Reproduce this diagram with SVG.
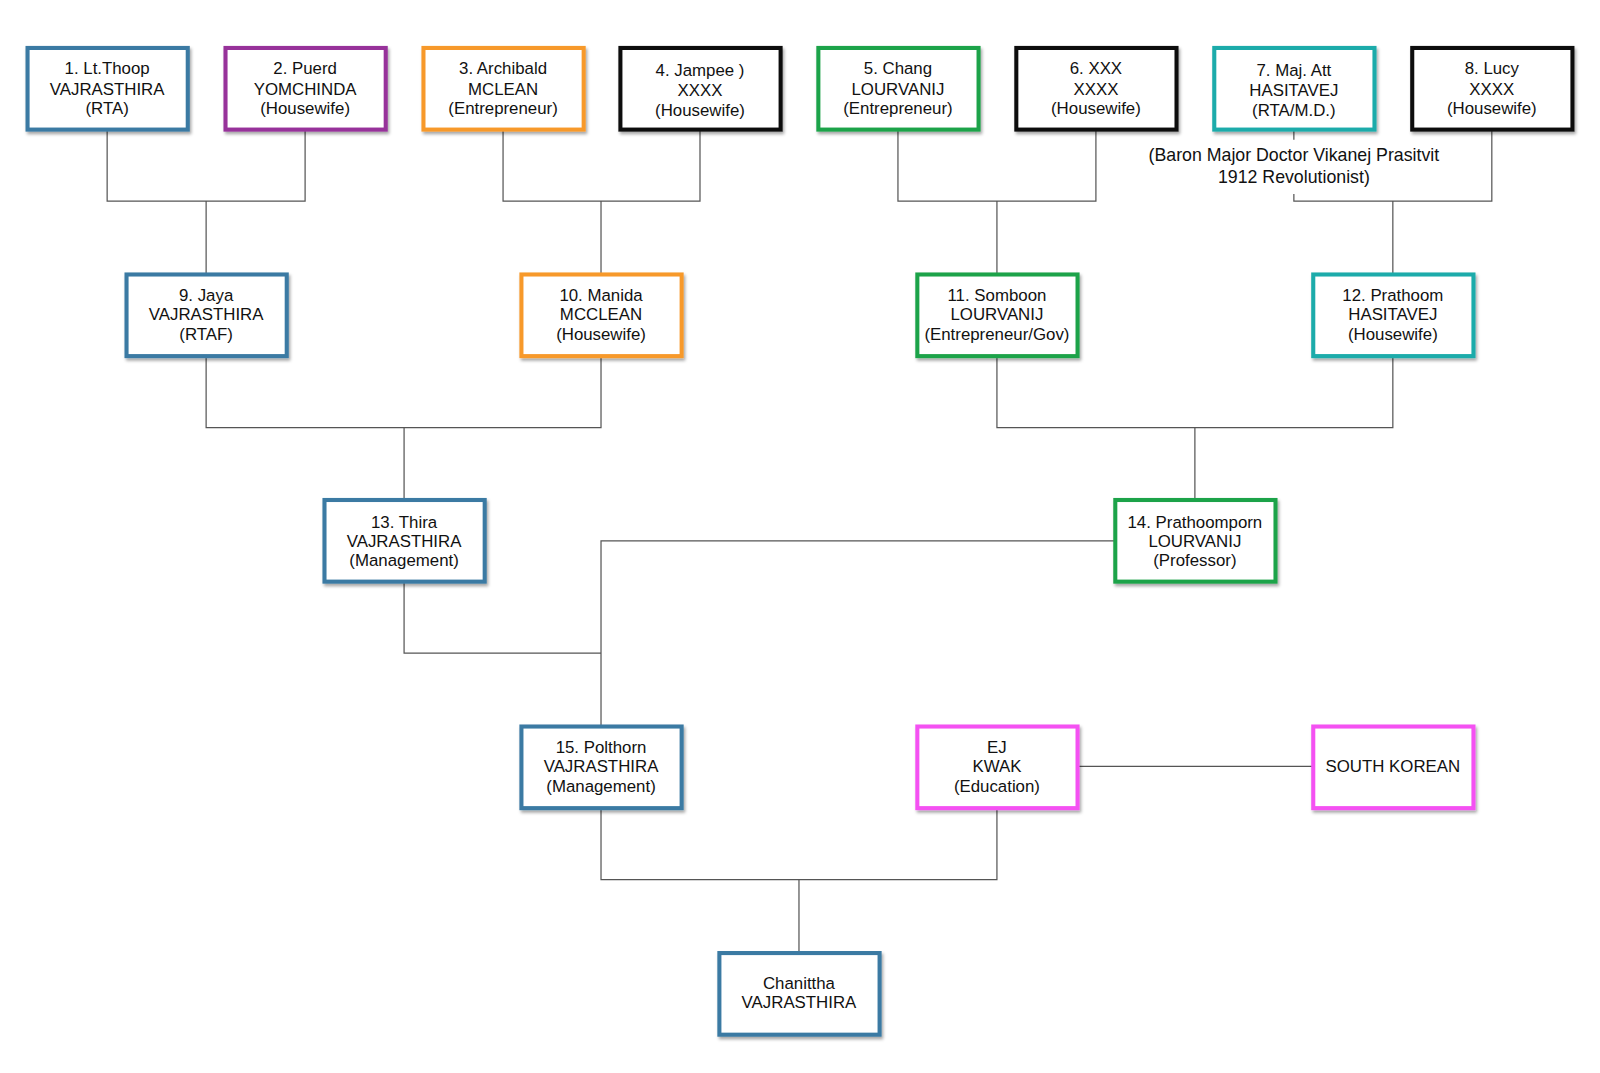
<svg xmlns="http://www.w3.org/2000/svg" width="1600" height="1073" viewBox="0 0 1600 1073">
<style>
.box{fill:#fff;stroke-width:4;filter:url(#sh)}
.t{font-family:"Liberation Sans",Arial,sans-serif;font-size:16.5px;fill:#111;text-anchor:middle}
.n{font-size:17.4px}
.c{stroke:#555;stroke-width:1.2;fill:none}
.blue{stroke:#3A7AA3}.purple{stroke:#97309A}.orange{stroke:#F7992C}.black{stroke:#111}.green{stroke:#1FA34A}.teal{stroke:#1BABAA}.pink{stroke:#F451F2}
</style>
<defs>
<filter id="sh" x="-10%" y="-10%" width="125%" height="130%">
<feDropShadow dx="1.5" dy="2.5" stdDeviation="1.8" flood-color="#000" flood-opacity="0.35"/>
</filter>
</defs>
<rect width="1600" height="1073" fill="#fff"/>
<g transform="scale(1.0204)">
<g id="connectors" class="c">
<path d="M105 127V197H299V127M202 197V269"/>
<path d="M493 127V197H686V127M589 197V269"/>
<path d="M880 127V197H1074V127M977 197V269"/>
<path d="M1268 127V137M1268 190V197H1462V127M1365 197V269"/>
<path d="M202 349V419H589V349M396 419V490"/>
<path d="M977 349V419H1365V349M1171 419V490"/>
<path d="M396 570V640H589"/>
<path d="M1092 530H589V712"/>
<path d="M589 792V862H977V792M783 862V934"/>
<path d="M1056 751H1286"/>
</g>
<g id="n1"><rect class="box blue" x="27" y="47" width="157" height="80"/><text class="t" x="105" y="73">1. Lt.Thoop</text><text class="t" x="105" y="93">VAJRASTHIRA</text><text class="t" x="105" y="112">(RTA)</text></g>
<g id="n2"><rect class="box purple" x="221" y="47" width="157" height="80"/><text class="t" x="299" y="73">2. Puerd</text><text class="t" x="299" y="93">YOMCHINDA</text><text class="t" x="299" y="112">(Housewife)</text></g>
<g id="n3"><rect class="box orange" x="415" y="47" width="157" height="80"/><text class="t" x="493" y="73">3. Archibald</text><text class="t" x="493" y="93">MCLEAN</text><text class="t" x="493" y="112">(Entrepreneur)</text></g>
<g id="n4"><rect class="box black" x="608" y="47" width="157" height="80"/><text class="t" x="686" y="74">4. Jampee )</text><text class="t" x="686" y="94">XXXX</text><text class="t" x="686" y="114">(Housewife)</text></g>
<g id="n5"><rect class="box green" x="802" y="47" width="157" height="80"/><text class="t" x="880" y="73">5. Chang</text><text class="t" x="880" y="93">LOURVANIJ</text><text class="t" x="880" y="112">(Entrepreneur)</text></g>
<g id="n6"><rect class="box black" x="996" y="47" width="157" height="80"/><text class="t" x="1074" y="73">6. XXX</text><text class="t" x="1074" y="93">XXXX</text><text class="t" x="1074" y="112">(Housewife)</text></g>
<g id="n7"><rect class="box teal" x="1190" y="47" width="157" height="80"/><text class="t" x="1268" y="74">7. Maj. Att</text><text class="t" x="1268" y="94">HASITAVEJ</text><text class="t" x="1268" y="114">(RTA/M.D.)</text></g>
<g id="n8"><rect class="box black" x="1384" y="47" width="157" height="80"/><text class="t" x="1462" y="73">8. Lucy</text><text class="t" x="1462" y="93">XXXX</text><text class="t" x="1462" y="112">(Housewife)</text></g>
<g id="note"><text class="t n" x="1268" y="158">(Baron Major Doctor Vikanej Prasitvit</text><text class="t n" x="1268" y="179">1912 Revolutionist)</text></g>
<g id="n9"><rect class="box blue" x="124" y="269" width="157" height="80"/><text class="t" x="202" y="295">9. Jaya</text><text class="t" x="202" y="314">VAJRASTHIRA</text><text class="t" x="202" y="333">(RTAF)</text></g>
<g id="n10"><rect class="box orange" x="511" y="269" width="157" height="80"/><text class="t" x="589" y="295">10. Manida</text><text class="t" x="589" y="314">MCCLEAN</text><text class="t" x="589" y="333">(Housewife)</text></g>
<g id="n11"><rect class="box green" x="899" y="269" width="157" height="80"/><text class="t" x="977" y="295">11. Somboon</text><text class="t" x="977" y="314">LOURVANIJ</text><text class="t" x="977" y="333">(Entrepreneur/Gov)</text></g>
<g id="n12"><rect class="box teal" x="1287" y="269" width="157" height="80"/><text class="t" x="1365" y="295">12. Prathoom</text><text class="t" x="1365" y="314">HASITAVEJ</text><text class="t" x="1365" y="333">(Housewife)</text></g>
<g id="n13"><rect class="box blue" x="318" y="490" width="157" height="80"/><text class="t" x="396" y="517">13. Thira</text><text class="t" x="396" y="536">VAJRASTHIRA</text><text class="t" x="396" y="555">(Management)</text></g>
<g id="n14"><rect class="box green" x="1093" y="490" width="157" height="80"/><text class="t" x="1171" y="517">14. Prathoomporn</text><text class="t" x="1171" y="536">LOURVANIJ</text><text class="t" x="1171" y="555">(Professor)</text></g>
<g id="n15"><rect class="box blue" x="511" y="712" width="157" height="80"/><text class="t" x="589" y="738">15. Polthorn</text><text class="t" x="589" y="757">VAJRASTHIRA</text><text class="t" x="589" y="776">(Management)</text></g>
<g id="nEJ"><rect class="box pink" x="899" y="712" width="157" height="80"/><text class="t" x="977" y="738">EJ</text><text class="t" x="977" y="757">KWAK</text><text class="t" x="977" y="776">(Education)</text></g>
<g id="nSK"><rect class="box pink" x="1287" y="712" width="157" height="80"/><text class="t" x="1365" y="757">SOUTH KOREAN</text></g>
<g id="nC"><rect class="box blue" x="705" y="934" width="157" height="80"/><text class="t" x="783" y="969">Chanittha</text><text class="t" x="783" y="988">VAJRASTHIRA</text></g>
</g>
</svg>
